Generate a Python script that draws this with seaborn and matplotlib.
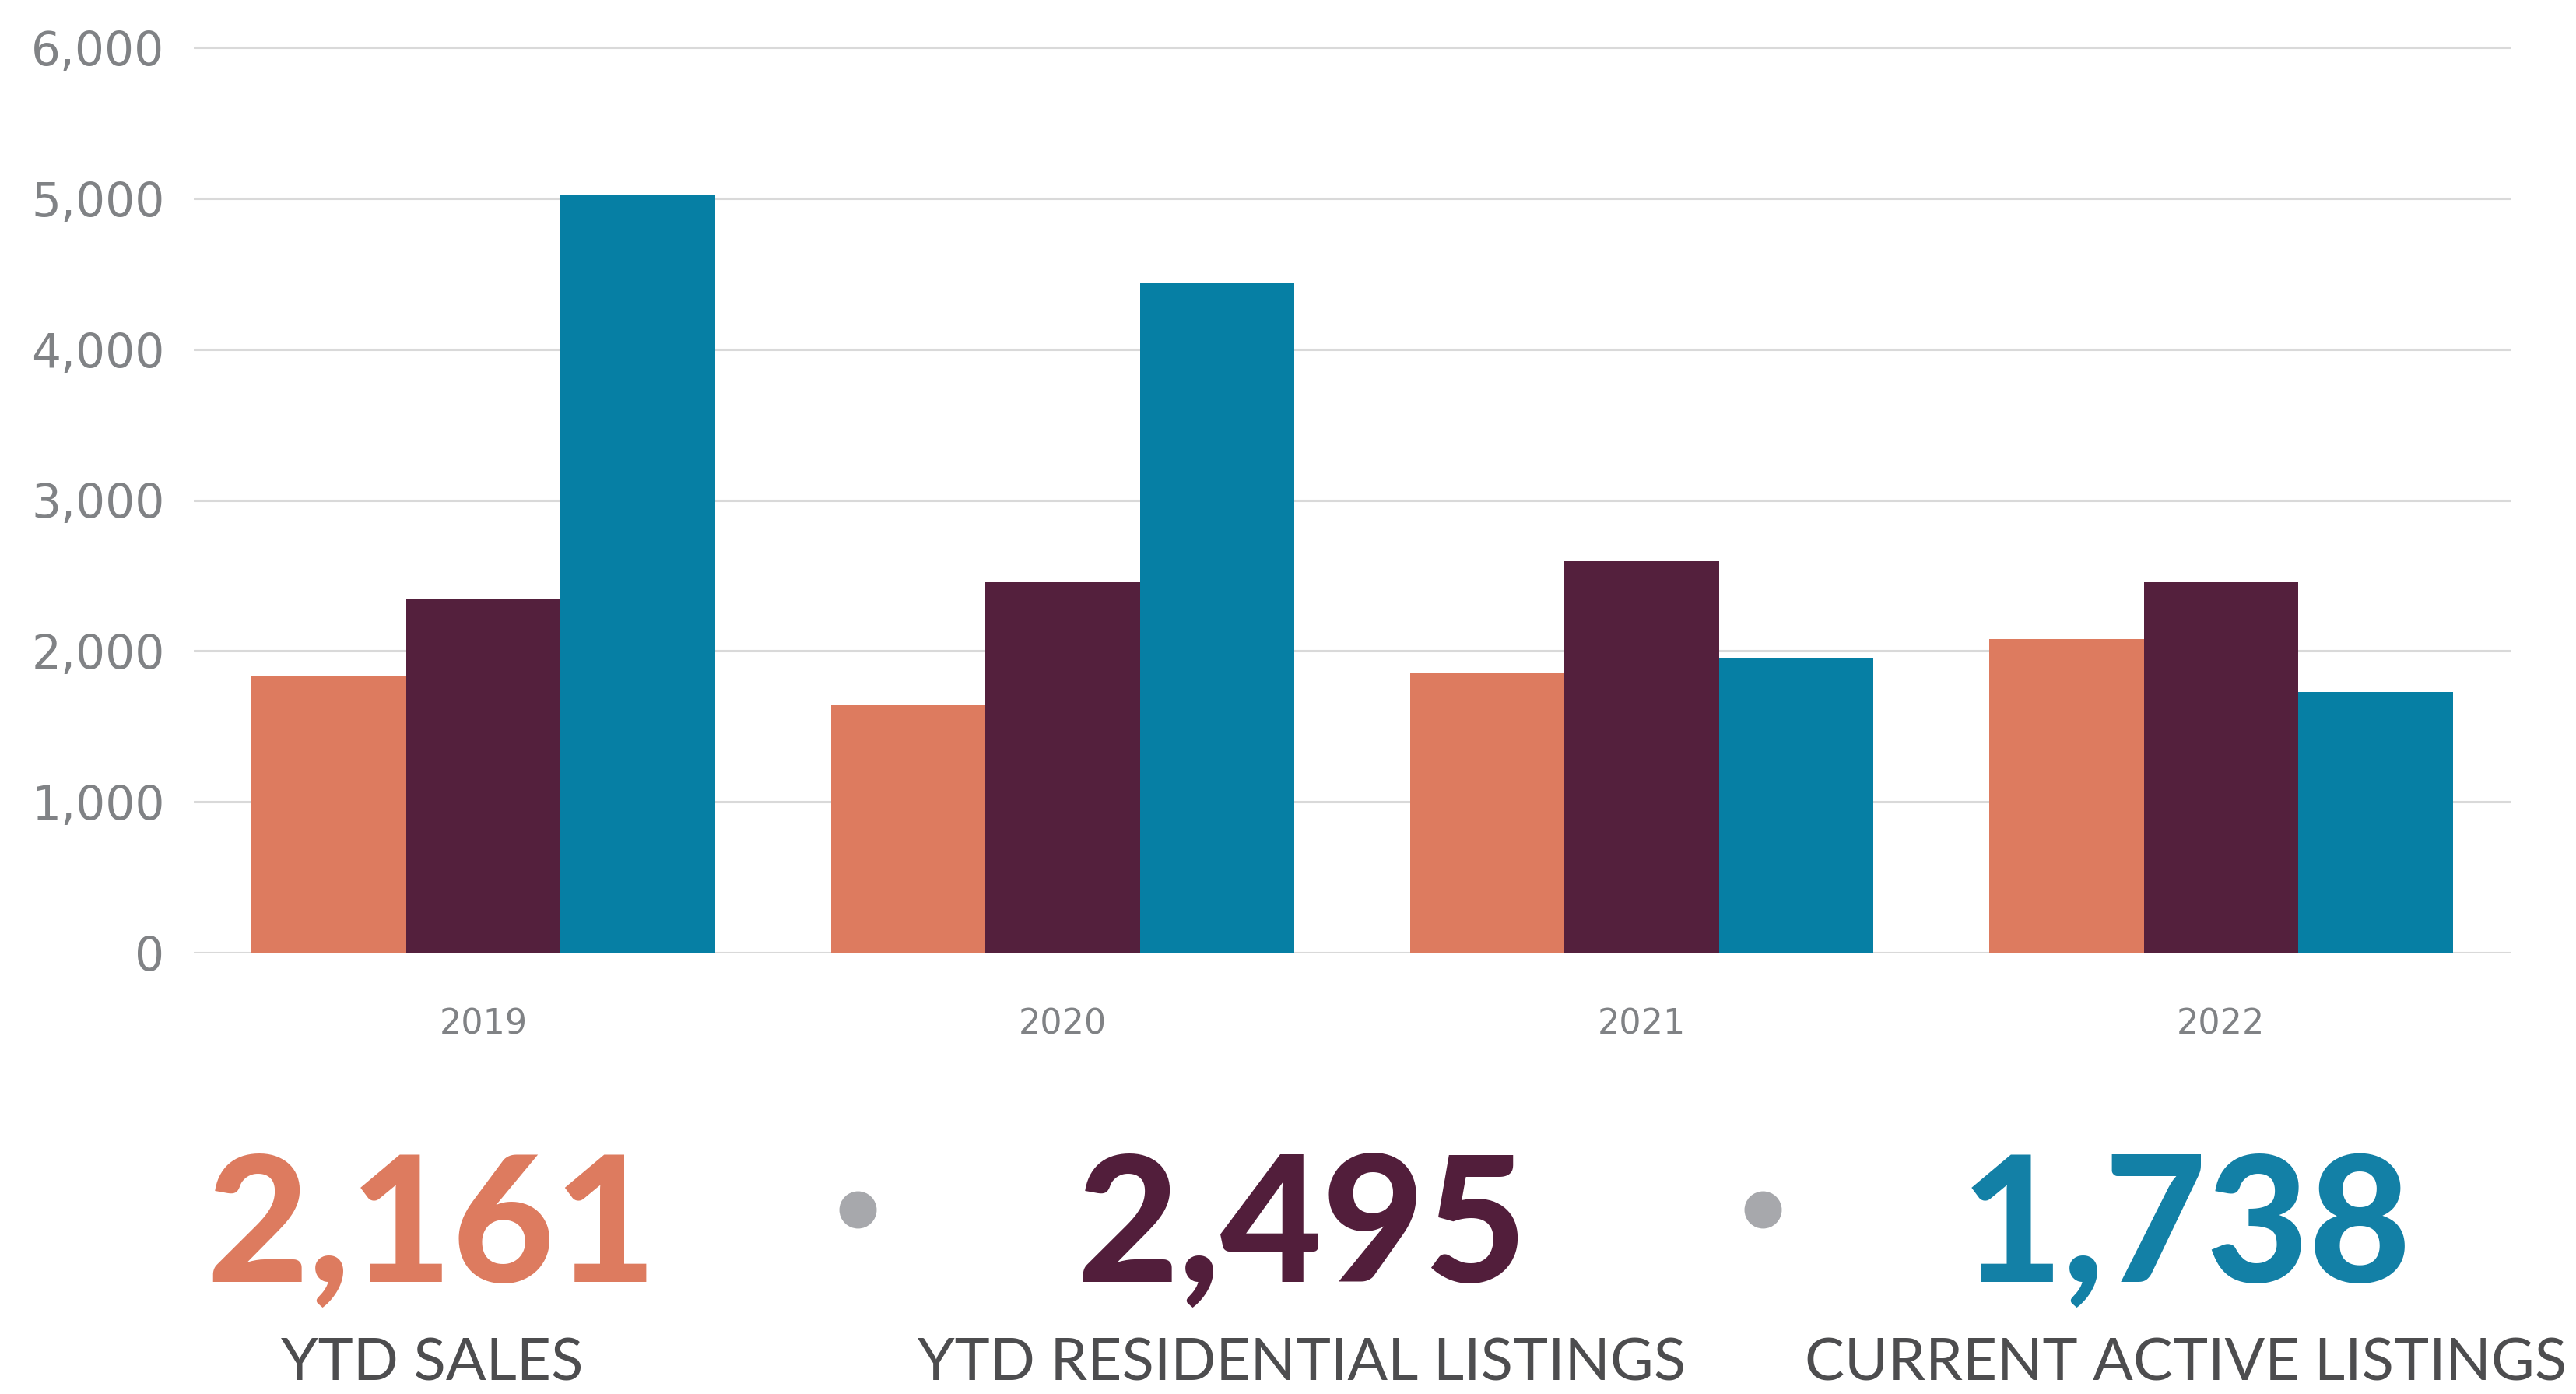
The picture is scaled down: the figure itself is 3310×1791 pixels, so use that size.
import matplotlib
matplotlib.use("Agg")
import matplotlib.pyplot as plt
from matplotlib.lines import Line2D
import seaborn as sns
import pandas as pd

# ---- data ----
years = ["2019", "2020", "2021", "2022"]
series = ["YTD Sales", "YTD Residential Listings", "Current Active Listings"]
ytd_sales = [1838, 1640, 1850, 2077]
ytd_listings = [2341, 2457, 2594, 2454]
active_listings = [5018, 4441, 1948, 1727]
y_ticks = [0, 1000, 2000, 3000, 4000, 5000, 6000]
y_tick_labels = ["0", "1,000", "2,000", "3,000", "4,000", "5,000", "6,000"]

kpi_values = ["2,161", "2,495", "1,738"]
kpi_labels = ["YTD SALES", "YTD RESIDENTIAL LISTINGS", "CURRENT ACTIVE LISTINGS"]

colors = ["#DD7B5F", "#54203D", "#067FA4"]
kpi_colors = ["#DD7B5F", "#521E3B", "#1380A6"]

rows = []
for i, y in enumerate(years):
    for s, vals in zip(series, [ytd_sales, ytd_listings, active_listings]):
        rows.append({"year": y, "series": s, "value": vals[i]})
df = pd.DataFrame(rows)

sns.set_theme(style="white")
plt.rcParams["font.family"] = ["DejaVu Sans"]

W, H = 3310, 1791
fig = plt.figure(figsize=(W / 100, H / 100), dpi=100)
fig.patch.set_facecolor("white")

ymax = 6050
ax_bottom_px = 1224
px_per_unit = (1224 - 61) / 6000
ax_h_px = ymax * px_per_unit
ax_left_px, ax_right_px = 249, 3226
ax = fig.add_axes([ax_left_px / W, (H - ax_bottom_px) / H,
                   (ax_right_px - ax_left_px) / W, ax_h_px / H])

sns.barplot(data=df, x="year", y="value", hue="series", palette=colors,
            hue_order=series, order=years, width=0.8, saturation=1,
            linewidth=0, ax=ax, legend=False, zorder=3)

ax.set_xlim(-0.5, 3.5)
ax.set_ylim(0, ymax)
ax.set_yticks(y_ticks)
ax.set_yticklabels(y_tick_labels)
ax.set_xlabel("")
ax.set_ylabel("")
for sp in ax.spines.values():
    sp.set_visible(False)
ax.yaxis.grid(True, color="#D9D9D9", linewidth=2.2, zorder=0)
ax.set_axisbelow(True)
ax.tick_params(axis="y", length=0, pad=27, labelsize=43, labelcolor="#808285")
ax.tick_params(axis="x", length=0, pad=51, labelsize=32, labelcolor="#808285")

# ---- KPI row ----
centers_px = [555, 1673, 2809]
for x, val, lab, c in zip(centers_px, kpi_values, kpi_labels, kpi_colors):
    fig.text(x / W, (H - 1647) / H, val, ha="center", va="baseline",
             fontsize=163, color=c, family=["Lato", "DejaVu Sans"],
             fontweight="black")
    fig.text(x / W, (H - 1773) / H, lab, ha="center", va="baseline",
             fontsize=55, color="#4D4D4F", family=["Lato", "DejaVu Sans"])

for dx in [1102, 2265]:
    fig.add_artist(Line2D([dx / W], [(H - 1554) / H], marker="o",
                          markersize=34.5, color="#A7A8AC",
                          markeredgewidth=0, transform=fig.transFigure))

fig.savefig("out.png", dpi=100, facecolor="white")
